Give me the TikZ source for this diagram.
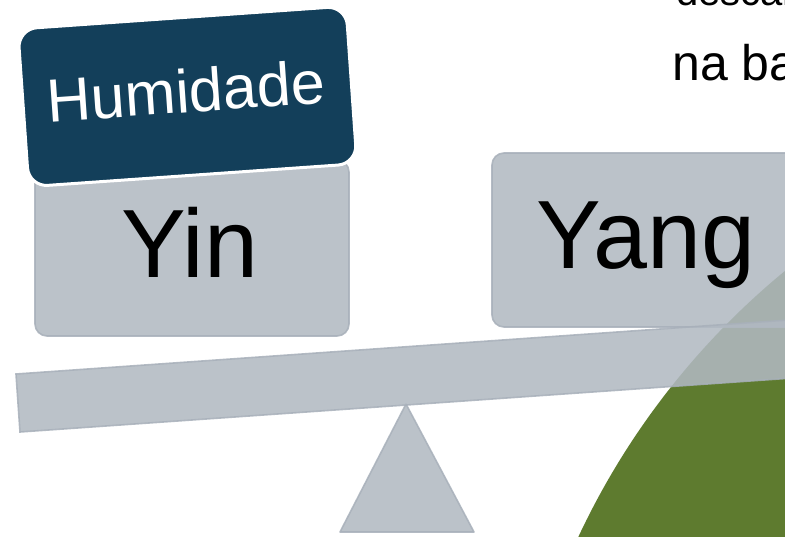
\documentclass[tikz,border=0pt]{standalone}
\usepackage{fontspec}
\setmainfont{Liberation Sans}
\definecolor{panelgray}{RGB}{177,185,194}
\definecolor{panelline}{RGB}{168,176,186}
\definecolor{humblue}{RGB}{19,63,90}
\definecolor{leafgreen}{RGB}{94,123,47}
\tikzset{
  panel/.style={draw=panelline, line width=1.6pt, fill=panelgray, fill opacity=0.87, draw opacity=0.85, inner sep=0pt},
  roundpanel/.style={panel, rounded corners=12pt},
  humbox/.style={draw=white, line width=3pt, fill=humblue, rounded corners=19pt, inner sep=0pt},
  bigtext/.style={font=\fontsize{97}{97}\selectfont, text=black, anchor=base, inner sep=0pt},
  humtext/.style={font=\fontsize{61}{61}\selectfont, text=white, anchor=base, inner sep=0pt},
  bodytext/.style={font=\fontsize{#1}{#1}\selectfont, text=black, anchor=base west, inner sep=0pt}
}
\begin{document}
\begin{tikzpicture}[x=1pt,y=-1pt]
\clip (0,0) rectangle (785,536);
\fill[white] (0,0) rectangle (785,536);
% green disc behind the balance
\fill[leafgreen] (1268,859) circle (761pt);
% text lines at top right
\node[bodytext=40] (line1) at (676,5) {descan};
\node[bodytext=50] (line2) at (672,80) {na ba};
% Yang box
\node[roundpanel, minimum width=308pt, minimum height=174pt] (yang) at (646,240) {};
\node[bigtext] (yangtext) at (646,268) {Yang};
% fulcrum
\draw[panel, line join=round] (406,404) -- (474,532) -- (340,532) -- cycle;
% beam
\draw[panel] (16,374) -- (20,432) -- (800,377.5) -- (796,319.5) -- cycle;
% Yin box
\node[roundpanel, minimum width=314pt, minimum height=176pt] (yin) at (192,248) {};
\node[bigtext] (yintext) at (190,277) {Yin};
% Humidade label
\node[humbox, rotate=4, minimum width=329pt, minimum height=158pt] (hum) at (187.4,96.4) {};
\node[humtext, rotate=4] (humtext) at (187.5,112.4) {Humidade};
\end{tikzpicture}
\end{document}
